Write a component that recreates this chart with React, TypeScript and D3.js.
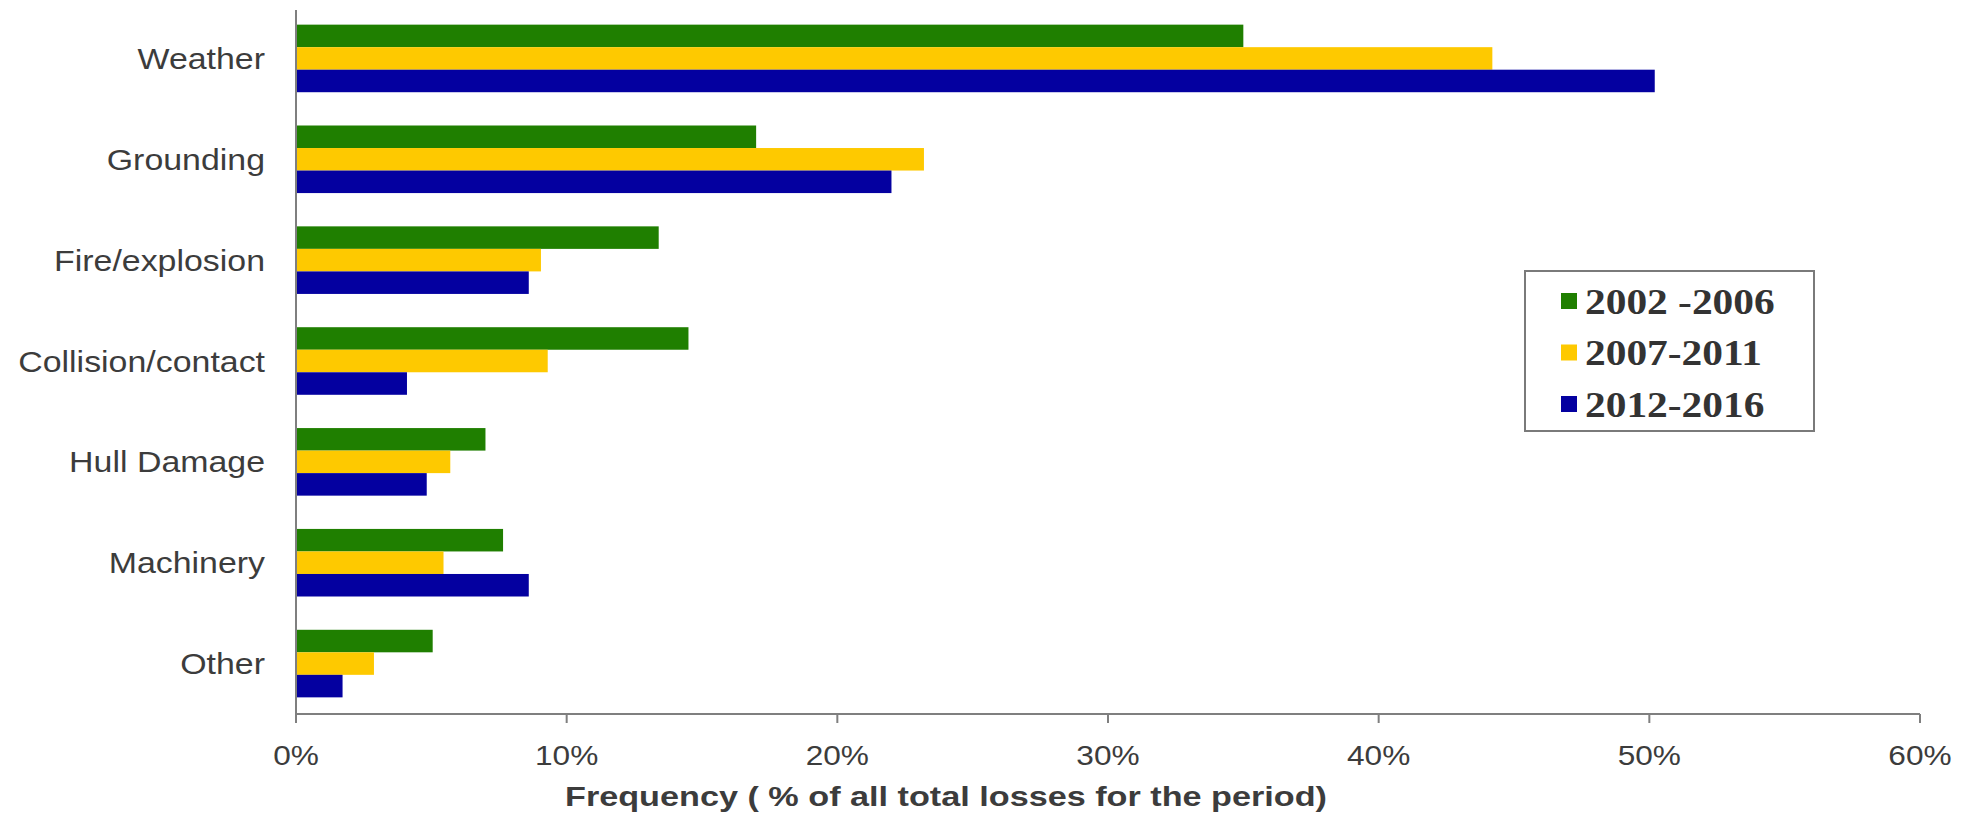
import React from "react";
import * as d3 from "d3";

const categories = ["Weather", "Grounding", "Fire/explosion", "Collision/contact", "Hull Damage", "Machinery", "Other"];
const seriesNames = ["2002 -2006", "2007-2011", "2012-2016"];
const s2002_2006 = [35.0, 17.0, 13.4, 14.5, 7.0, 7.65, 5.05];
const s2007_2011 = [44.2, 23.2, 9.05, 9.3, 5.7, 5.45, 2.88];
const s2012_2016 = [50.2, 22.0, 8.6, 4.1, 4.83, 8.6, 1.72];
const xTicks = [0, 10, 20, 30, 40, 50, 60];
const colors = ["#1f7f00", "#fec900", "#0400a0"];

const W = 1967;
const H = 821;
const SX = 1.13;

export default function App() {
  const series = [s2002_2006, s2007_2011, s2012_2016];
  const x = d3.scaleLinear().domain([0, 60]).range([296, 1920]);
  const y = d3.scaleBand<string>().domain(categories).range([8, 714]).paddingInner(0.33).paddingOuter(0.165);
  const y1 = d3.scaleBand<number>().domain([0, 1, 2]).range([0, y.bandwidth()]);
  const axisY = 714;
  const labelFont = "Arial, 'Liberation Sans', sans-serif";

  return (
    <svg width={W} height={H} style={{ position: "absolute", left: 0, top: 0, background: "#fff" }}>
      <rect x={0} y={0} width={W} height={H} fill="#fff" />
      {categories.map((c, i) => (
        <g key={c} transform={`translate(0,${y(c)})`}>
          {series.map((s, j) => (
            <rect key={j} x={x(0)} y={y1(j)} width={x(s[i]) - x(0)} height={y1.bandwidth()} fill={colors[j]} />
          ))}
        </g>
      ))}
      {/* y axis */}
      <line x1={x(0)} x2={x(0)} y1={10} y2={axisY} stroke="#7f7f7f" strokeWidth={2} />
      {categories.map((c) => (
        <text
          key={c}
          transform={`translate(265,${(y(c) as number) + y.bandwidth() / 2}) scale(${SX},1)`}
          textAnchor="end"
          dy="0.35em"
          fontFamily={labelFont}
          fontSize={30}
          fill="#3c3c3c"
        >
          {c}
        </text>
      ))}
      {/* x axis */}
      <line x1={x(0)} x2={x(60)} y1={axisY} y2={axisY} stroke="#7f7f7f" strokeWidth={2} />
      {xTicks.map((t) => (
        <g key={t}>
          <line x1={x(t)} x2={x(t)} y1={axisY} y2={axisY + 9} stroke="#7f7f7f" strokeWidth={2} />
          <text
            transform={`translate(${x(t)},755) scale(${SX},1)`}
            textAnchor="middle"
            dy="0.35em"
            fontFamily={labelFont}
            fontSize={28}
            fill="#3c3c3c"
          >
            {t}%
          </text>
        </g>
      ))}
      <text
        x={565}
        y={797}
        dy="0.35em"
        fontFamily={labelFont}
        fontWeight="bold"
        fontSize={27}
        fill="#3c3c3c"
        textLength={762}
        lengthAdjust="spacingAndGlyphs"
      >
        Frequency ( % of all total losses for the period)
      </text>
      {/* legend */}
      <rect x={1525} y={271} width={289} height={160} fill="#fff" stroke="#7a7a7a" strokeWidth={2} />
      {seriesNames.map((n, j) => (
        <g key={n} transform={`translate(1561,${301 + j * 51.5})`}>
          <rect x={0} y={-8} width={16} height={16} fill={colors[j]} />
          <text
            transform={`translate(24,0) scale(1.15,1)`}
            dy="0.35em"
            fontFamily="'Times New Roman', 'Liberation Serif', serif"
            fontWeight="bold"
            fontSize={36}
            fill="#333"
          >
            {n}
          </text>
        </g>
      ))}
    </svg>
  );
}
